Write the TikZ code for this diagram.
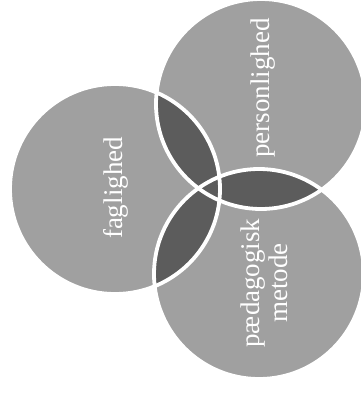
\documentclass[tikz,border=0pt]{standalone}
\usepackage{fontspec}
\setmainfont{Liberation Serif}
\definecolor{lightg}{RGB}{160,160,160}
\definecolor{darkg}{RGB}{92,92,92}
\begin{document}
\begin{tikzpicture}[x=1pt,y=-1pt,
  lbl/.style={text=white,rotate=90,align=center,font=\fontsize{27}{28}\selectfont,inner sep=0pt},
  ring/.style={draw=white,line width=3.8pt}]
\useasboundingbox (0,0) rectangle (361,394);
\coordinate (cl) at (115,189);
\coordinate (ct) at (261,104);
\coordinate (cb) at (259,274);
\def\rr{105}
% base fills
\fill[lightg] (cl) circle (\rr);
\fill[lightg] (ct) circle (\rr);
\fill[lightg] (cb) circle (\rr);
% pairwise overlaps
\begin{scope}\clip (cl) circle (\rr); \fill[darkg] (ct) circle (\rr); \end{scope}
\begin{scope}\clip (cl) circle (\rr); \fill[darkg] (cb) circle (\rr); \end{scope}
\begin{scope}\clip (ct) circle (\rr); \fill[darkg] (cb) circle (\rr); \end{scope}
% white outlines
\draw[ring] (cl) circle (\rr);
\draw[ring] (ct) circle (\rr);
\draw[ring] (cb) circle (\rr);
% labels
\node[lbl] (fag) at (116,188) {faglighed};
\node[lbl] (per) at (263,88) {personlighed};
\node[lbl] (ped) at (264,283) {pædagogisk\\metode};
\end{tikzpicture}
\end{document}
